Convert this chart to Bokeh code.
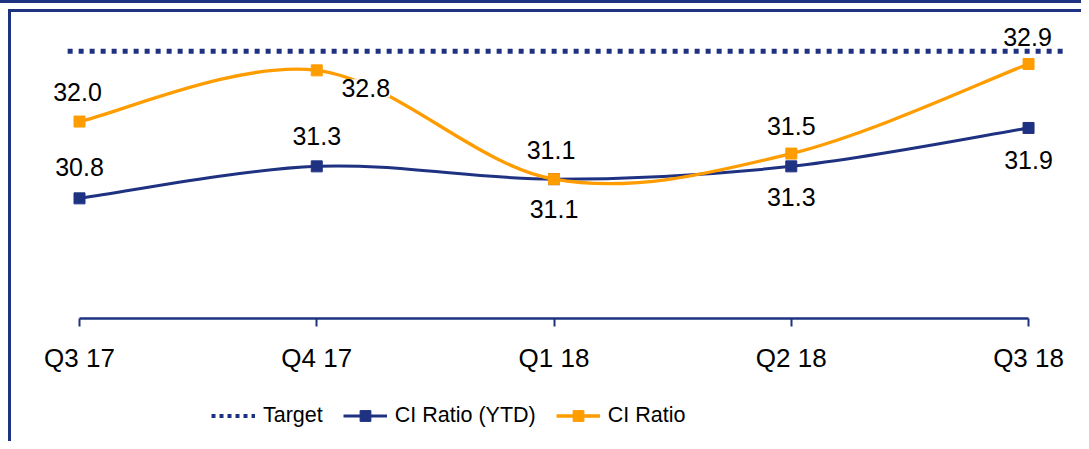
from bokeh.plotting import figure
from bokeh.layouts import column
from bokeh.models import (Range1d, FixedTicker, Legend, LegendItem, LabelSet,
                          ColumnDataSource)
from bokeh.core.properties import value
from bokeh.embed import file_html
from bokeh.resources import INLINE

# ---- data ----
quarters = ["Q3 17", "Q4 17", "Q1 18", "Q2 18", "Q3 18"]
ci_ratio_ytd = [30.8, 31.3, 31.1, 31.3, 31.9]
ci_ratio = [32.0, 32.8, 31.1, 31.5, 32.9]
target = 33.1

# ---- style ----
NAVY = "#1F3282"
ORANGE = "#FF9D00"
FONT = "Liberation Sans"
# label placement (screen px) per point
ytd_dx = [0, 0, 0, 0, 0]
ytd_dy = [31, 30, -30, -31, -32]
ci_dx = [-2, 49, -3, 0, -1]
ci_dy = [30, -18, 29, 28, 27]
TARGET_PAD_L, TARGET_PAD_R = 0.05, 0.145   # how far the target line overhangs

xs = list(range(len(quarters)))


def smooth(xv, yv, t=1.0 / 6.0):
    """cubic bezier control points (Catmull-Rom style smoothing)"""
    n = len(xv)
    out = {k: [] for k in ("x0", "y0", "x1", "y1", "cx0", "cy0", "cx1", "cy1")}
    for i in range(n - 1):
        a = i - 1 if i > 0 else i
        d = i + 2 if i + 2 < n else i + 1
        out["x0"].append(xv[i]); out["y0"].append(yv[i])
        out["x1"].append(xv[i + 1]); out["y1"].append(yv[i + 1])
        out["cx0"].append(xv[i] + (xv[i + 1] - xv[a]) * t)
        out["cy0"].append(yv[i] + (yv[i + 1] - yv[a]) * t)
        out["cx1"].append(xv[i + 1] - (xv[d] - xv[i]) * t)
        out["cy1"].append(yv[i + 1] - (yv[d] - yv[i]) * t)
    return ColumnDataSource(out)


W = 1081
p = figure(width=W, height=380, x_range=Range1d(-0.1644, 4.219),
           y_range=Range1d(28.923, 33.704), output_backend="svg",
           toolbar_location=None, y_axis_location=None,
           min_border_left=40, min_border_right=1, min_border_top=12,
           min_border_bottom=62)
p.grid.visible = False
p.outline_line_color = None
p.background_fill_color = None
p.border_fill_color = None

# target
p.line([xs[0] - TARGET_PAD_L, xs[-1] + TARGET_PAD_R], [target, target],
       line_color=NAVY, line_width=5, line_dash="5 6")

# CI Ratio (YTD)
p.bezier(x0="x0", y0="y0", x1="x1", y1="y1", cx0="cx0", cy0="cy0",
         cx1="cx1", cy1="cy1", source=smooth(xs, ci_ratio_ytd),
         line_color=NAVY, line_width=3)
p.scatter(xs, ci_ratio_ytd, marker="square", size=11,
          fill_color=NAVY, line_color=NAVY)

# CI Ratio
p.bezier(x0="x0", y0="y0", x1="x1", y1="y1", cx0="cx0", cy0="cy0",
         cx1="cx1", cy1="cy1", source=smooth(xs, ci_ratio),
         line_color=ORANGE, line_width=3.3)
p.scatter(xs, ci_ratio, marker="square", size=11,
          fill_color=ORANGE, line_color=ORANGE)

# labels
src_ytd = ColumnDataSource(dict(x=xs, y=ci_ratio_ytd,
                                t=["%.1f" % v for v in ci_ratio_ytd],
                                dx=ytd_dx, dy=ytd_dy))
src_ci = ColumnDataSource(dict(x=xs, y=ci_ratio,
                               t=["%.1f" % v for v in ci_ratio],
                               dx=ci_dx, dy=ci_dy))
for src, bg in ((src_ytd, None), (src_ci, "white")):
    ls = LabelSet(x="x", y="y", text="t", source=src, x_offset="dx",
                  y_offset="dy", text_align="center", text_baseline="middle",
                  text_font=value(FONT), text_font_size="25px",
                  text_color="black", background_fill_color=bg)
    p.add_layout(ls)

# x axis
ax = p.xaxis[0]
ax.ticker = FixedTicker(ticks=xs)
ax.major_label_overrides = {i: q for i, q in enumerate(quarters)}
ax.bounds = (xs[0], xs[-1])
ax.axis_line_color = NAVY
ax.axis_line_width = 2.5
ax.major_tick_line_color = NAVY
ax.major_tick_line_width = 2
ax.major_tick_in = 0
ax.major_tick_out = 8
ax.minor_tick_line_color = None
ax.major_label_text_font = FONT
ax.major_label_text_font_size = "26px"
ax.major_label_text_color = "black"
ax.major_label_standoff = 16

# legend strip (separate figure; its swatch renderers sit outside its view)
lg = figure(width=W, height=61, x_range=Range1d(0, 1), y_range=Range1d(0, 1),
            output_backend="svg", toolbar_location=None, x_axis_location=None,
            y_axis_location=None, min_border=0)
lg.grid.visible = False
lg.outline_line_color = None
lg.background_fill_color = None
lg.border_fill_color = None


def swatch_src():
    return ColumnDataSource(dict(x=[-5, -4], y=[-5, -5]))


l_t = lg.line(x="x", y="y", source=swatch_src(),
              line_color=NAVY, line_width=4, line_dash="4 4")
l_y = lg.line(x="x", y="y", source=swatch_src(), line_color=NAVY, line_width=3)
m_y = lg.scatter(x="x", y="y", source=swatch_src(),
                 marker="square", fill_color=NAVY, line_color=NAVY)
l_c = lg.line(x="x", y="y", source=swatch_src(), line_color=ORANGE, line_width=3.3)
m_c = lg.scatter(x="x", y="y", source=swatch_src(),
                 marker="square", fill_color=ORANGE, line_color=ORANGE)
legend = Legend(items=[
    LegendItem(label="Target", renderers=[l_t]),
    LegendItem(label="CI Ratio (YTD)", renderers=[l_y, m_y]),
    LegendItem(label="CI Ratio", renderers=[l_c, m_c]),
], orientation="horizontal", location=(171, 12), glyph_width=44,
    glyph_height=27, label_standoff=8, spacing=20, padding=0, margin=0,
    border_line_color=None, background_fill_color=None,
    label_text_font=FONT, label_text_font_size="21.5px", label_text_color="black")
lg.add_layout(legend)

page = column(p, lg, spacing=0)
page.styles = {"box-shadow": ", ".join([
    "inset 0 3px 0 0 " + NAVY,
    "inset 0 9px 0 0 white",
    "inset 8px 0 0 0 white",
    "inset 11px 0 0 0 " + NAVY,
    "inset 0 12px 0 0 " + NAVY,
])}

open("out.html", "w").write(file_html(page, INLINE))
